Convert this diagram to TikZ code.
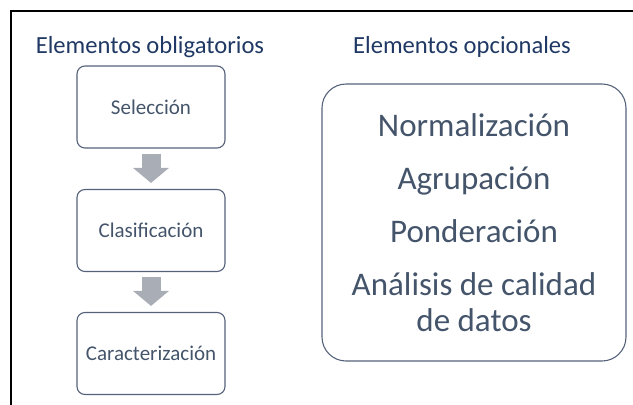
\documentclass[tikz,border=0pt]{standalone}
\usepackage{fontspec}
\setmainfont{Carlito}
\usetikzlibrary{arrows.meta}
\definecolor{titblue}{HTML}{1F3864}
\definecolor{boxtext}{HTML}{44546A}
\definecolor{boxline}{HTML}{56627A}
\definecolor{flowgray}{HTML}{A9ADB6}
\begin{document}
\begin{tikzpicture}[x=1pt,y=-1pt,
	title/.style={text=titblue,font=\fontsize{24.6}{28}\selectfont,anchor=base,inner sep=0pt},
	stepbox/.style={draw=boxline,line width=1.1pt,rounded corners=8pt,minimum width=148pt,minimum height=82pt,text=boxtext,font=\fontsize{21}{24}\selectfont},
	optbox/.style={draw=boxline,line width=1.1pt,rounded corners=24pt,minimum width=304pt,minimum height=277pt,text=boxtext,align=center,font=\fontsize{33}{36}\selectfont},
	flow/.style={draw=flowgray,line width=19pt,-{Triangle[length=15pt,width=35pt]}}]
	\useasboundingbox (0,0) rectangle (633,405);
	\draw[line width=2.4pt] (11,405)--(11,11)--(633,11);
	\node[title] (obl) at (150,53) {Elementos obligatorios};
	\node[title] (opc) at (462,53) {Elementos opcionales};
	\node[stepbox] (sel) at (151,107) {Selección};
	\node[stepbox] (cla) at (151,230.5) {Clasificación};
	\node[stepbox] (car) at (151,353.5) {Caracterización};
	\draw[flow] ([yshift=-5pt]sel.south)--([yshift=6pt]cla.north);
	\draw[flow] ([yshift=-5pt]cla.south)--([yshift=6pt]car.north);
	\node[optbox] (opt) at (474,222.5) {Normalización\\[17pt]Agrupación\\[17pt]Ponderación\\[17pt]Análisis de calidad\\de datos};
\end{tikzpicture}
\end{document}
